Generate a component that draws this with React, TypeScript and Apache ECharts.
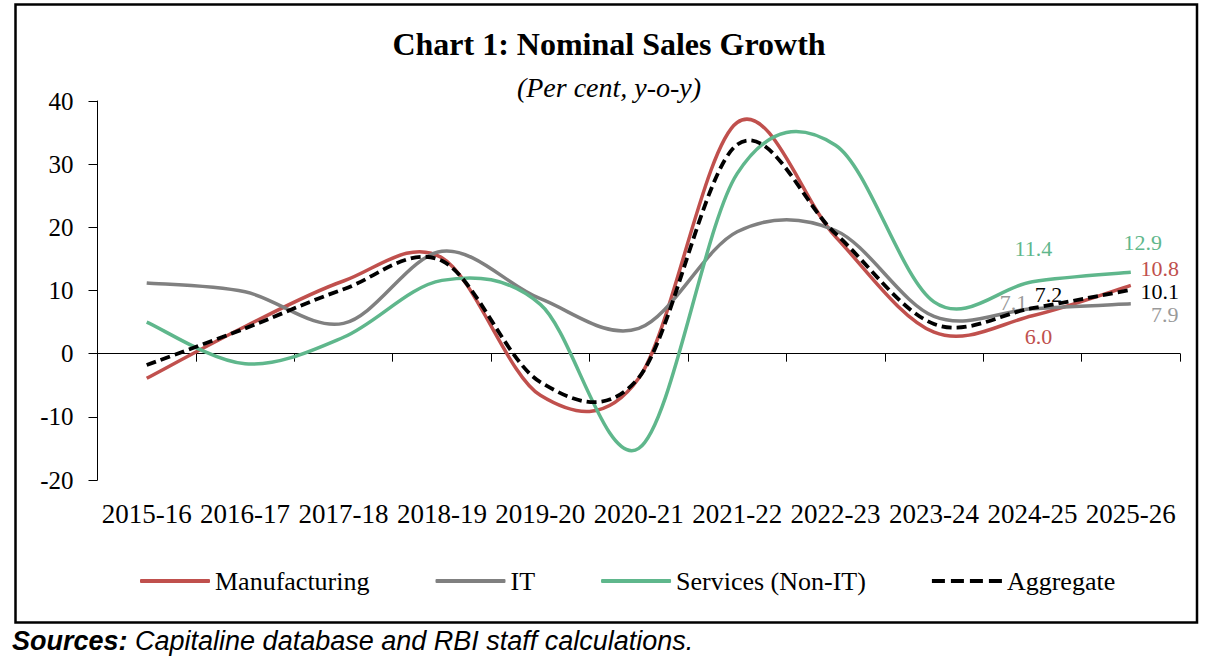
import React, { useEffect, useRef } from "react";
import * as echarts from "echarts";

const categories = ["2015-16", "2016-17", "2017-18", "2018-19", "2019-20", "2020-21", "2021-22", "2022-23", "2023-24", "2024-25", "2025-26"];
const manufacturing = [-3.9, 4.3, 11.5, 15.2, -6.6, -3.9, 36.6, 18.5, 3.4, 6.0, 10.8];
const itSector = [11.2, 9.8, 4.8, 16.2, 8.7, 4.0, 19.3, 19.5, 5.9, 7.1, 7.9];
const servicesNonIT = [5.0, -1.6, 2.6, 11.6, 7.8, -15.0, 28.5, 33.0, 8.2, 11.4, 12.9];
const aggregate = [-1.8, 4.0, 10.2, 14.7, -4.5, -3.8, 33.1, 19.0, 4.7, 7.2, 10.1];
const yTicks = { min: -20, max: 40, interval: 10 };

const SERIF = "Liberation Serif";
const RED = "#C0504D";
const GRAY = "#808080";
const GREEN = "#5FB78C";

// label offsets (styles) for the last two points of each series
const labelStyles: Record<string, { color: string; offsets: Record<number, [number, number]> }> = {
  Manufacturing: { color: RED, offsets: { 9: [6, 21], 10: [29, -17] } },
  IT: { color: "#9A9A9A", offsets: { 9: [-19, -6], 10: [34, 11] } },
  "Services (Non-IT)": { color: GREEN, offsets: { 9: [1, -33], 10: [12, -30] } },
  Aggregate: { color: "#000", offsets: { 9: [16, -14], 10: [29, 2] } },
};

function makeRenderItem(name: string, color: string, dashed: boolean, count: number) {
  const cfg = labelStyles[name];
  return (params: any, api: any) => {
    const idx = params.dataIndex;
    const children: any[] = [];
    if (idx === 0) {
      const pts: number[][] = [];
      for (let i = 0; i < count; i++) {
        pts.push(api.coord([api.value(0, i), api.value(1, i)]));
      }
      let d = `M${pts[0][0]},${pts[0][1]}`;
      for (let i = 0; i < pts.length - 1; i++) {
        const p0 = pts[Math.max(i - 1, 0)];
        const p1 = pts[i];
        const p2 = pts[i + 1];
        const p3 = pts[Math.min(i + 2, pts.length - 1)];
        const c1x = p1[0] + (p2[0] - p0[0]) / 6;
        const c1y = p1[1] + (p2[1] - p0[1]) / 6;
        const c2x = p2[0] - (p3[0] - p1[0]) / 6;
        const c2y = p2[1] - (p3[1] - p1[1]) / 6;
        d += ` C${c1x},${c1y} ${c2x},${c2y} ${p2[0]},${p2[1]}`;
      }
      children.push({
        type: "path",
        shape: { pathData: d },
        style: {
          fill: "none",
          stroke: color,
          lineWidth: dashed ? 3.8 : 3.5,
          lineDash: dashed ? [10, 5] : null,
          lineCap: "butt",
          lineJoin: "round",
        },
        z2: dashed ? 10 : 5,
      });
    }
    const off = cfg.offsets[idx];
    if (off) {
      const p = api.coord([api.value(0), api.value(1)]);
      children.push({
        type: "text",
        x: p[0] + off[0],
        y: p[1] + off[1],
        style: {
          text: Number(api.value(1)).toFixed(1),
          fill: cfg.color,
          font: `22px '${SERIF}'`,
          align: "center",
          verticalAlign: "middle",
          textAlign: "center",
          textVerticalAlign: "middle",
        },
        z2: 20,
      });
    }
    return { type: "group", children };
  };
}

export default function App() {
  const ref = useRef<HTMLDivElement>(null);
  useEffect(() => {
    if (!ref.current) return;
    const chart = echarts.init(ref.current, undefined, { renderer: "svg" });
    const mkSeries = (name: string, values: number[], color: string, dashed = false) => ({
      name,
      type: "custom",
      xAxisIndex: 0,
      yAxisIndex: 0,
      data: values.map((v, i) => [i, v]),
      encode: { x: 0, y: 1 },
      itemStyle: { color },
      renderItem: makeRenderItem(name, color, dashed, values.length),
      z: dashed ? 5 : 3,
    });
    chart.setOption({
      animation: false,
      backgroundColor: "#fff",
      title: [
        {
          text: "Chart 1: Nominal Sales Growth",
          left: "center",
          top: 23,
          textStyle: { fontFamily: SERIF, fontWeight: "bold", fontSize: 32, color: "#000" },
        },
        {
          text: "(Per cent, y-o-y)",
          left: "center",
          top: 68,
          textStyle: { fontFamily: SERIF, fontStyle: "italic", fontWeight: "normal", fontSize: 28, color: "#000" },
        },
      ],
      grid: { left: 97.5, right: 38, top: 101, bottom: 180, containLabel: false },
      legend: {
        left: 135,
        top: 563,
        itemWidth: 70,
        itemHeight: 4,
        itemGap: 66,
        textStyle: { fontFamily: SERIF, fontSize: 26, color: "#000" },
        data: [
          { name: "Manufacturing", icon: "roundRect" },
          { name: "IT", icon: "roundRect" },
          { name: "Services (Non-IT)", icon: "roundRect" },
          { name: "Aggregate", icon: "path://M0,0h13v4h-13z M19,0h13v4h-13z M38,0h13v4h-13z M57,0h13v4h-13z" },
        ],
      },
      xAxis: [
        {
          type: "category",
          data: categories,
          position: "bottom",
          boundaryGap: true,
          axisLine: { show: true, onZero: true, lineStyle: { color: "#000", width: 1 } },
          axisTick: { show: true, length: 8, lineStyle: { color: "#000" } },
          axisLabel: { show: false },
          splitLine: { show: false },
        },
        {
          type: "category",
          data: categories,
          position: "bottom",
          boundaryGap: true,
          axisLine: { show: false, onZero: false },
          axisTick: { show: false },
          axisLabel: { show: true, fontFamily: SERIF, fontSize: 27, color: "#000", margin: 20, interval: 0 },
          splitLine: { show: false },
        },
      ],
      yAxis: {
        type: "value",
        min: yTicks.min,
        max: yTicks.max,
        interval: yTicks.interval,
        axisLine: { show: true, lineStyle: { color: "#000", width: 1 } },
        axisTick: { show: true, length: 9, lineStyle: { color: "#000" } },
        axisLabel: { fontFamily: SERIF, fontSize: 25, color: "#000", margin: 24 },
        splitLine: { show: false },
      },
      graphic: [
        {
          type: "rect",
          shape: { x: 15.5, y: 4.5, width: 1181.5, height: 618 },
          style: { fill: "none", stroke: "#000", lineWidth: 2.5 },
          silent: true,
        },
        {
          type: "text",
          left: 12,
          top: 627,
          style: {
            text: "{b|Sources:} Capitaline database and RBI staff calculations.",
            font: "italic 27px 'Liberation Sans'",
            fill: "#000",
            rich: {
              b: { fontWeight: "bold", fontStyle: "italic", fontFamily: "Liberation Sans", fontSize: 27, fill: "#000" },
            },
          },
        },
      ],
      series: [
        mkSeries("Manufacturing", manufacturing, RED),
        mkSeries("IT", itSector, GRAY),
        mkSeries("Services (Non-IT)", servicesNonIT, GREEN),
        mkSeries("Aggregate", aggregate, "#000", true),
      ],
    });
    return () => chart.dispose();
  }, []);
  return (
    <div
      ref={ref}
      style={{ position: "fixed", left: 0, top: 0, width: 1218, height: 660, background: "#fff" }}
    />
  );
}
